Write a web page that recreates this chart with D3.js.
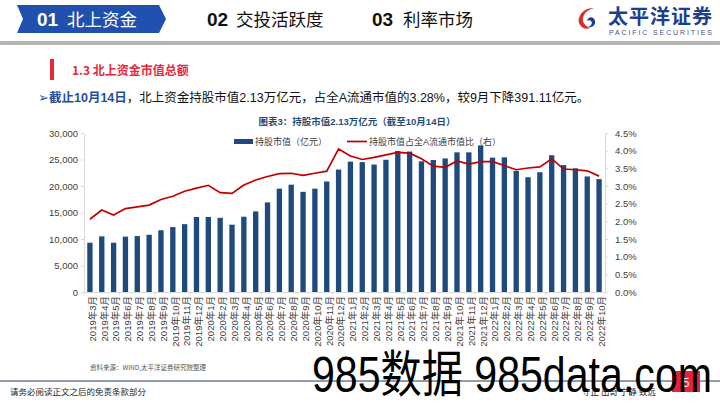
<!DOCTYPE html>
<html>
<head>
<meta charset="utf-8">
<script src="https://cdn.jsdelivr.net/npm/d3@7"></script>
<style>
  body { margin: 0; background: #fff; }
  svg { display: block; font-family: "Liberation Sans", "Noto Sans CJK SC", sans-serif; }
</style>
</head>
<body>
<svg id="page" width="720" height="405"></svg>
<script>
// chart data
const months = ["2019年3月","2019年4月","2019年5月","2019年6月","2019年7月","2019年8月","2019年9月","2019年10月","2019年11月","2019年12月",
  "2020年1月","2020年2月","2020年3月","2020年4月","2020年5月","2020年6月","2020年7月","2020年8月","2020年9月","2020年10月","2020年11月","2020年12月",
  "2021年1月","2021年2月","2021年3月","2021年4月","2021年5月","2021年6月","2021年7月","2021年8月","2021年9月","2021年10月","2021年11月","2021年12月",
  "2022年1月","2022年2月","2022年3月","2022年4月","2022年5月","2022年6月","2022年7月","2022年8月","2022年9月","2022年10月"];
const holdValue = [9300,10500,9300,10450,10550,10800,11650,12250,12800,14150,
  14150,14000,12700,14200,15200,16900,19500,20250,18900,19500,20850,23100,
  24600,24500,24050,24950,26600,26500,24650,24900,25200,26350,26350,27650,
  25350,25400,22850,21650,22600,25800,23950,23350,21800,21300];
const holdRatio = [2.06,2.32,2.18,2.36,2.41,2.46,2.62,2.71,2.85,2.94,
  3.02,2.81,2.79,3.03,3.17,3.27,3.35,3.36,3.30,3.36,3.42,4.05,
  3.85,3.75,3.81,3.88,3.95,3.93,3.77,3.56,3.53,3.71,3.62,3.69,
  3.69,3.58,3.46,3.51,3.54,3.77,3.48,3.46,3.43,3.28];
const leftTicks = [0,5000,10000,15000,20000,25000,30000];
const rightTicks = [0,0.5,1,1.5,2,2.5,3,3.5,4,4.5];
const seriesNames = ["持股市值（亿元）","持股市值占全A流通市值比（右）"];
const navItems = [["01","北上资金"],["02","交投活跃度"],["03","利率市场"]];

const svg = d3.select("#page");
const blue = "#1f4a7e", red = "#c00000", axisGrey = "#d9d9d9", txt = "#404040";

// ---- header ----
svg.append("polygon")
  .attr("points", "17,5 159,5 166,19 159,33 17,33 23,19")
  .attr("fill", "#1f50ad");
const navX = [[37, 67], [207, 236], [372, 403]];
navItems.forEach((n, i) => {
  svg.append("text").attr("x", navX[i][0]).attr("y", 26)
    .attr("font-family", "'Liberation Sans Narrow','Liberation Sans'")
    .attr("font-weight", "bold").attr("font-size", 19)
    .attr("fill", i == 0 ? "#fff" : "#111").text(n[0]);
  svg.append("text").attr("x", navX[i][1]).attr("y", 26)
    .attr("font-family", "'Noto Sans CJK SC'")
    .attr("font-size", 17.5)
    .attr("fill", i == 0 ? "#fff" : "#111").text(n[1]);
});
svg.append("rect").attr("x", 0).attr("y", 41).attr("width", 720).attr("height", 4).attr("fill", "#b4b4b4");

// logo
svg.append("path")
  .attr("d", "M594,8 C584,7 577,16 579,23 C581,28 586,30 590,28 C584,26 581,20 584,15 C586,11 590,9 594,8 Z")
  .attr("fill", "#e02a2a");
svg.append("path")
  .attr("d", "M587,21 C588,16 594,16 595,21 C596,25 592,28 588,27 C591,26 593,23 591,21 C590,20 588,20 587,21 Z")
  .attr("fill", "#1d3f8f");
svg.append("text").attr("x", 608).attr("y", 24)
  .attr("font-family", "'Noto Sans CJK SC'").attr("font-weight", "bold")
  .attr("font-size", 20).attr("fill", "#1d3f8f")
  .attr("textLength", 104).text("太平洋证券");
svg.append("text").attr("x", 609).attr("y", 35)
  .attr("font-size", 7).attr("fill", "#44507a")
  .attr("textLength", 103).text("PACIFIC SECURITIES");

// ---- section title + summary ----
svg.append("rect").attr("x", 50).attr("y", 59).attr("width", 4).attr("height", 21).attr("fill", "#e8283c");
svg.append("text").attr("x", 72).attr("y", 75)
  .attr("font-family", "'Noto Sans CJK SC'").attr("font-weight", "bold")
  .attr("font-size", 12).attr("fill", "#e8283c").text("1.3 北上资金市值总额");

const summary = svg.append("text").attr("x", 38).attr("y", 102)
  .attr("font-size", 12.5).attr("fill", "#111");
summary.append("tspan").attr("fill", "#1f4e9c").text("➢");
summary.append("tspan").attr("fill", "#1f4e9c").attr("font-weight", "bold").text("截止10月14日");
summary.append("tspan").text("，北上资金持股市值2.13万亿元，占全A流通市值的3.28%，较9月下降391.11亿元。");

// ---- chart ----
const x = d3.scaleBand().domain(months).range([84, 605]).paddingInner(0.55).paddingOuter(0.275);
const yL = d3.scaleLinear().domain([0, 30000]).range([292, 133]);
const yR = d3.scaleLinear().domain([0, 4.5]).range([292, 133]);

svg.append("text").attr("x", 357).attr("y", 125).attr("text-anchor", "middle")
  .attr("font-weight", "bold").attr("font-size", 9.5).attr("fill", "#1f4e79")
  .text("图表3：持股市值2.13万亿元（截至10月14日）");

// axes
const axL = svg.append("g").attr("transform", "translate(84,0)")
  .call(d3.axisLeft(yL).tickValues(leftTicks).tickFormat(d3.format(",")).tickSize(3).tickSizeOuter(0));
const axR = svg.append("g").attr("transform", "translate(605,0)")
  .call(d3.axisRight(yR).tickValues(rightTicks).tickFormat(d => d.toFixed(1) + "%").tickSize(3).tickSizeOuter(0).tickPadding(7));
const axB = svg.append("g").attr("transform", "translate(0,292)")
  .call(d3.axisBottom(x).tickSize(0).tickSizeOuter(0).tickPadding(4));
[axL, axR, axB].forEach(a => {
  a.selectAll(".domain").attr("stroke", axisGrey);
  a.selectAll(".tick line").attr("stroke", axisGrey);
  a.selectAll("text").attr("fill", txt).attr("font-size", 9.5)
    .attr("font-family", "'Liberation Sans','Noto Sans CJK SC'");
});
axB.selectAll(".tick text")
  .attr("transform", "rotate(-90)")
  .attr("text-anchor", "end")
  .attr("dx", "-4px").attr("dy", "-0.3em")
  .attr("x", 0).attr("y", 0)
  .style("dominant-baseline", "middle");
axB.selectAll(".tick text").attr("dy", "0.35em");

// boundary ticks every third month
const step = x.step();
const bTicks = d3.range(0, months.length + 1, 3);
svg.append("g").selectAll("line").data(bTicks).join("line")
  .attr("x1", d => x.range()[0] + d * step).attr("x2", d => x.range()[0] + d * step)
  .attr("y1", 292).attr("y2", 295).attr("stroke", axisGrey);

// bars
svg.append("g").selectAll("rect").data(months).join("rect")
  .attr("x", d => x(d)).attr("width", x.bandwidth())
  .attr("y", (d, i) => yL(holdValue[i]))
  .attr("height", (d, i) => yL(0) - yL(holdValue[i]))
  .attr("fill", blue);

// ratio line
const line = d3.line()
  .x((d, i) => x(months[i]) + x.bandwidth() / 2)
  .y(d => yR(d));
svg.append("path").attr("d", line(holdRatio))
  .attr("fill", "none").attr("stroke", red).attr("stroke-width", 1.7);

// legend
const lg = svg.append("g").attr("font-size", 9).attr("fill", txt);
lg.append("rect").attr("x", 234).attr("y", 139).attr("width", 19).attr("height", 5).attr("fill", blue);
lg.append("text").attr("x", 255).attr("y", 144.5).text(seriesNames[0]);
lg.append("line").attr("x1", 347).attr("x2", 367).attr("y1", 141.5).attr("y2", 141.5)
  .attr("stroke", red).attr("stroke-width", 1.7);
lg.append("text").attr("x", 369).attr("y", 144.5).text(seriesNames[1]);

// ---- footer ----
svg.append("text").attr("x", 90).attr("y", 370)
  .attr("font-family", "'Noto Sans CJK SC'").attr("font-size", 6.5).attr("fill", "#555")
  .text("资料来源：WIND,太平洋证券研究院整理");
svg.append("line").attr("x1", 0).attr("x2", 720).attr("y1", 381).attr("y2", 381)
  .attr("stroke", "#6f7d95").attr("stroke-width", 1.5);
svg.append("text").attr("x", 10).attr("y", 395)
  .attr("font-family", "'Noto Sans CJK SC'").attr("font-size", 8.5).attr("fill", "#222")
  .text("请务必阅读正文之后的免责条款部分");
svg.append("text").attr("x", 582).attr("y", 395)
  .attr("font-family", "'Noto Sans CJK SC'").attr("font-size", 8.5).attr("fill", "#222")
  .text("守正 出奇 宁静 致远");
svg.append("rect").attr("x", 672).attr("y", 371).attr("width", 28).attr("height", 21).attr("fill", "#e8203a");
svg.append("text").attr("x", 686).attr("y", 387).attr("text-anchor", "middle")
  .attr("font-size", 12).attr("fill", "#fff").text("5");

// watermark
svg.append("text").attr("x", 312).attr("y", 392)
  .attr("font-size", 50).attr("fill", "#000")
  .attr("textLength", 400).attr("lengthAdjust", "spacingAndGlyphs")
  .text("985数据 985data.com");
</script>
</body>
</html>
